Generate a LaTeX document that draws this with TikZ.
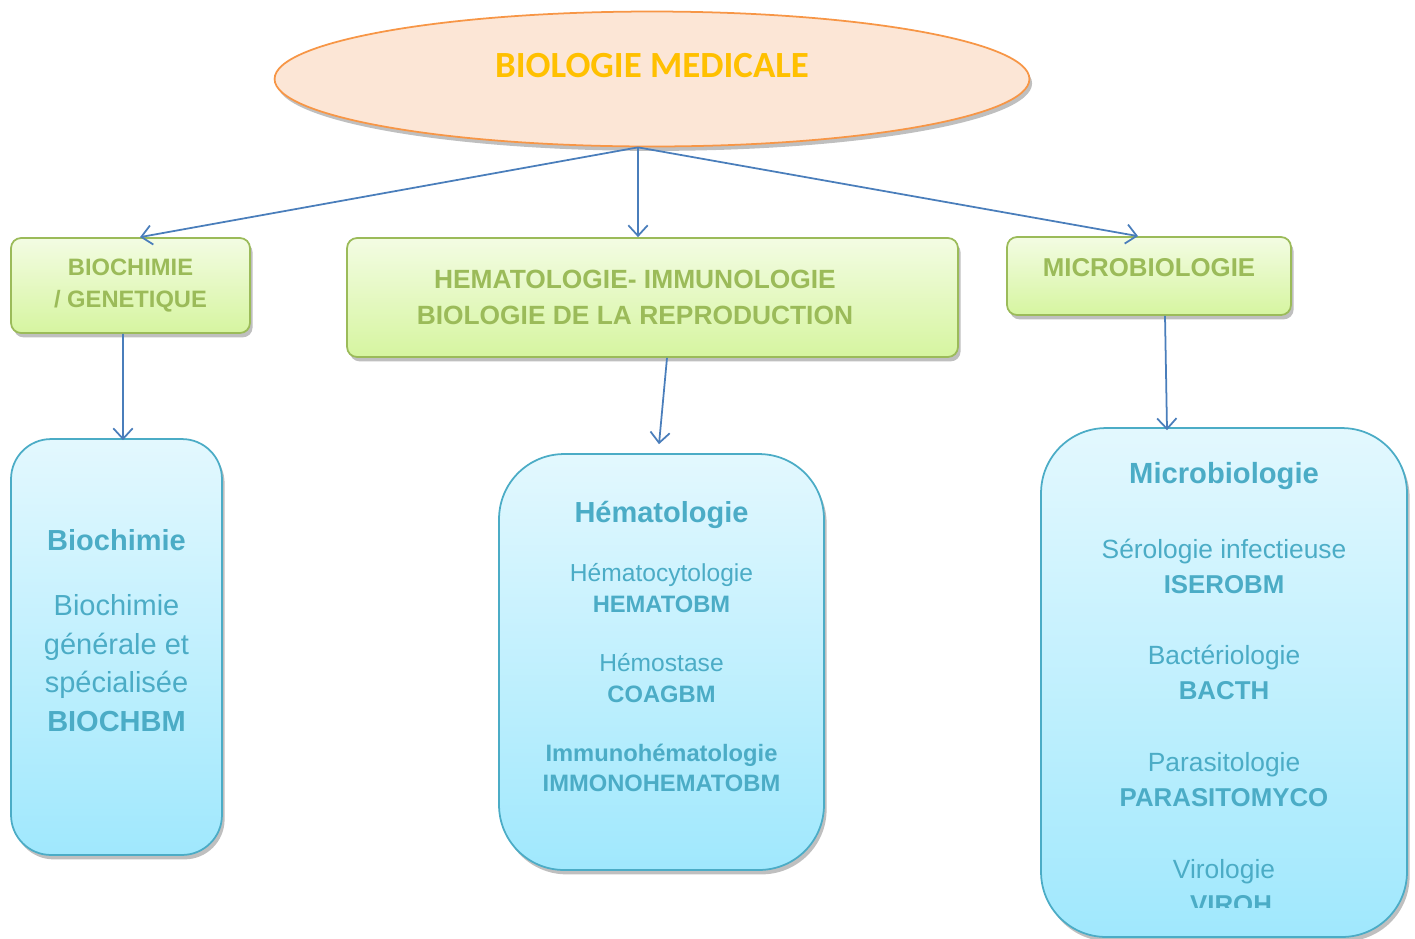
\documentclass[tikz,border=0pt]{standalone}
\usepackage{fontspec}
\setmainfont{Liberation Sans}
\newfontfamily\calibri{Carlito}
\usetikzlibrary{shapes.geometric}
\usetikzlibrary{shadows}
\usetikzlibrary{arrows.meta}
\usetikzlibrary{positioning}

\definecolor{peach}{HTML}{FCE6D6}
\definecolor{peachline}{HTML}{F79646}
\definecolor{gold}{HTML}{FFC000}
\definecolor{leaftop}{HTML}{F3FCE3}
\definecolor{leafbot}{HTML}{D6F5A0}
\definecolor{leafline}{HTML}{9BBB59}
\definecolor{skytop}{HTML}{E3F8FE}
\definecolor{skybot}{HTML}{A0E8FD}
\definecolor{skyline}{HTML}{4BACC6}
\definecolor{linkblue}{HTML}{4A7EBB}

\begin{document}
\begin{tikzpicture}[x=0.02cm, y=-0.02cm,
    soft/.style={drop shadow={shadow xshift=1.5pt, shadow yshift=-2.5pt, opacity=0.25, fill=black}},
    root/.style={ellipse, draw=peachline, line width=1pt, fill=peach, minimum width=15.1cm, minimum height=2.7cm, inner sep=0pt, soft},
    roottext/.style={font=\calibri\bfseries\fontsize{21}{25}\selectfont, text=gold},
    field/.style={rounded corners=0.2cm, draw=leafline, line width=1pt, top color=leaftop, bottom color=leafbot, text=leafline, align=center, soft},
    unit/.style={draw=skyline, line width=1pt, top color=skytop, bottom color=skybot, soft},
    unittext/.style={text=skyline, align=center, inner sep=0pt},
    link/.style={draw=linkblue, line width=1pt, -{Straight Barb[length=6pt, width=11pt]}}]
    \useasboundingbox (0,0) rectangle (1415,938);

    % top of the tree
    \node[root] (bio) at (652,79) {};
    \node[roottext, anchor=base] (biotitle) at ([yshift=0.04cm]bio.center) {BIOLOGIE MEDICALE};

    % departments
    \node[field, minimum width=4.78cm, minimum height=1.9cm, font=\bfseries\fontsize{13.5}{18}\selectfont] (bioc) at (130.5,285.5) {BIOCHIMIE\\ / GENETIQUE};
    \node[field, minimum width=12.22cm, minimum height=2.38cm, font=\bfseries\fontsize{15}{20.4}\selectfont] (hemat) at (652.5,297.5) {HEMATOLOGIE- IMMUNOLOGIE\hspace*{20pt}\\ BIOLOGIE DE LA REPRODUCTION\hspace*{20pt}};
    \node[field, minimum width=5.68cm, minimum height=1.56cm, text depth=9.4pt, font=\bfseries\fontsize{14.7}{18}\selectfont] (micro) at (1149,276) {MICROBIOLOGIE};

    % units
    \node[unit, rounded corners=0.8cm, minimum width=4.22cm, minimum height=8.32cm] (biocbox) at (116.5,647) {};
    \node[unittext, font=\fontsize{16.5}{22}\selectfont, below=1.82cm of biocbox.north] (bioctext) {\textbf{Biochimie}\\[14.9pt] Biochimie\\ générale et\\ spécialisée\\ \textbf{BIOCHBM}};

    \node[unit, rounded corners=1.3cm, minimum width=6.5cm, minimum height=8.32cm] (hematbox) at (661.5,662) {};
    \node[unittext, font=\fontsize{14}{17.6}\selectfont, below=0.96cm of hematbox.north] (hemattext) {{\fontsize{16.5}{17.6}\selectfont\bfseries Hématologie}\\[16pt]
      Hématocytologie\\ {\fontsize{13.5}{17.6}\selectfont\bfseries HEMATOBM}\\[15.8pt]
      Hémostase\\ {\fontsize{13.5}{17.6}\selectfont\bfseries COAGBM}\\[15.8pt]
      {\fontsize{13.5}{17.6}\selectfont\bfseries Immunohématologie}\\ {\fontsize{13.5}{17.6}\selectfont\bfseries IMMONOHEMATOBM}};

    \node[unit, rounded corners=1.3cm, minimum width=7.32cm, minimum height=10.18cm] (microbox) at (1224,682.5) {};
    \begin{scope}
      \clip (microbox.north west) rectangle ([yshift=0.6cm]microbox.south east);
      \node[unittext, font=\fontsize{15}{19.8}\selectfont, below=0.7cm of microbox.north] (microtext) {{\fontsize{16.6}{19.8}\selectfont\bfseries Microbiologie}\\[22.7pt]
        Sérologie infectieuse\\ {\fontsize{14.7}{19.8}\selectfont\bfseries ISEROBM}\\[21pt]
        Bactériologie\\ {\fontsize{14.7}{19.8}\selectfont\bfseries BACTH}\\[21pt]
        Parasitologie\\ {\fontsize{14.7}{19.8}\selectfont\bfseries PARASITOMYCO}\\[21.5pt]
        Virologie\\ {\fontsize{14.7}{19.8}\selectfont\bfseries\hspace*{8pt}VIROH}};
    \end{scope}

    % connectors
    \coordinate (fork) at ([xshift=-0.28cm]bio.south);
    \draw[link] (fork) -- ([xshift=0.19cm]bioc.north);
    \draw[link] (fork) -- ([xshift=-0.29cm]hemat.north);
    \draw[link] (fork) -- ([xshift=-0.22cm]micro.north);
    \draw[link] ([xshift=-0.15cm]bioc.south) -- ([xshift=0.13cm, yshift=-0.04cm]biocbox.north);
    \draw[link] ([xshift=0.29cm]hemat.south) -- ([xshift=-0.05cm, yshift=0.18cm]hematbox.north);
    \draw[link] ([xshift=0.32cm]micro.south) -- ([xshift=-1.14cm, yshift=-0.06cm]microbox.north);
\end{tikzpicture}
\end{document}
